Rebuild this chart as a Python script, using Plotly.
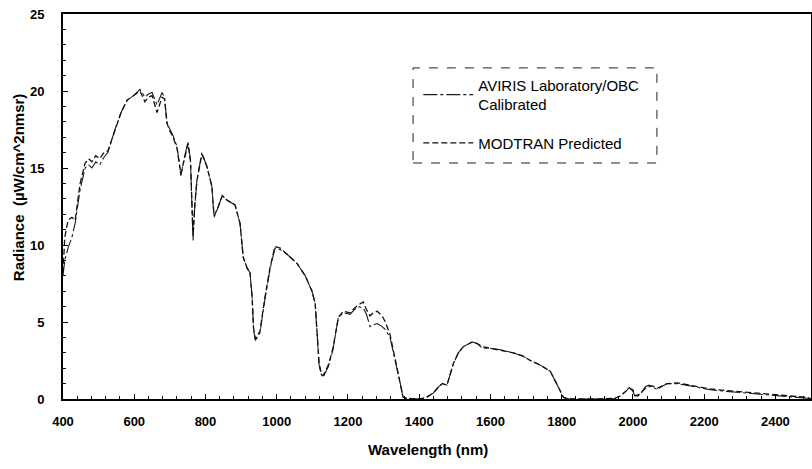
import plotly.graph_objects as go

wavelength = [400, 405, 414, 425, 434, 448, 462, 472, 481, 492, 503, 515, 526, 546, 563, 580, 598, 616,
              630, 640, 650, 664, 678, 685, 692, 700, 709, 720, 731, 740, 751, 758, 762, 765, 770, 776,
              790, 804, 818, 824, 833, 847, 861, 883, 897, 906, 917, 925, 931, 935, 940, 953, 967, 981,
              995, 1010, 1029, 1057, 1080, 1099, 1108, 1113, 1119, 1125, 1130, 1145, 1158, 1173, 1187,
              1206, 1218, 1229, 1243, 1252, 1262, 1271, 1282, 1296, 1305, 1318, 1333, 1347, 1355, 1380,
              1403, 1420, 1440, 1455, 1465, 1478, 1496, 1510, 1524, 1549, 1563, 1577, 1599, 1627, 1664,
              1690, 1712, 1740, 1768, 1788, 1805, 1820, 1900, 1950, 1965, 1980, 1990, 2000, 2007, 2021,
              2035, 2045, 2055, 2068, 2080, 2096, 2124, 2150, 2170, 2217, 2260, 2310, 2360, 2406, 2450,
              2490, 2500]

aviris = [8.0, 9.0, 9.8, 10.5, 11.4, 13.6, 15.0, 15.2, 15.0, 15.4, 15.2, 15.7, 16.0, 17.5, 18.6, 19.4,
          19.7, 20.1, 19.6, 19.8, 19.9, 19.1, 19.9, 19.6, 17.9, 17.5, 17.1, 16.4, 14.5, 15.6, 16.7, 15.5,
          12.0, 10.3, 12.5, 14.2, 16.0, 15.1, 13.8, 11.8, 12.3, 13.2, 12.9, 12.6, 11.4, 9.2, 8.5, 8.2,
          6.6, 4.5, 3.8, 4.3, 6.5, 8.4, 9.8, 9.7, 9.4, 8.8, 8.0, 7.0, 6.2, 4.0, 2.2, 1.6, 1.4, 2.1, 3.2,
          5.3, 5.6, 5.5, 5.8, 6.0, 5.9, 5.5, 4.7, 4.8, 4.9, 4.7, 4.5, 4.0, 2.5, 1.0, 0.05, 0.0, 0.0,
          0.1, 0.4, 0.8, 1.0, 0.9, 2.3, 3.0, 3.4, 3.7, 3.6, 3.3, 3.3, 3.2, 3.0, 2.8, 2.5, 2.2, 1.8, 0.9,
          0.1, 0.0, 0.0, 0.05, 0.2, 0.5, 0.75, 0.5, 0.1, 0.3, 0.8, 0.9, 0.8, 0.6, 0.8, 1.0, 1.0, 0.9,
          0.8, 0.6, 0.5, 0.4, 0.3, 0.2, 0.15, 0.05, 0.0]

modtran = [8.2, 10.5, 11.6, 11.8, 11.6, 14.0, 15.3, 15.6, 15.4, 15.8, 15.6, 16.0, 16.1, 17.5, 18.6,
           19.4, 19.7, 20.0, 19.3, 19.6, 19.7, 18.6, 19.6, 19.5, 17.9, 17.4, 17.0, 16.3, 14.6, 15.6,
           16.6, 15.4, 12.2, 10.6, 12.6, 14.2, 15.9, 15.1, 13.8, 11.9, 12.3, 13.2, 12.9, 12.6, 11.4, 9.2,
           8.5, 8.2, 6.6, 4.6, 3.9, 4.4, 6.6, 8.5, 9.9, 9.8, 9.4, 8.8, 8.0, 7.0, 6.2, 4.1, 2.3, 1.7, 1.5,
           2.2, 3.3, 5.3, 5.7, 5.6, 5.9, 6.1, 6.3, 5.8, 5.4, 5.6, 5.7, 5.4, 5.0, 4.2, 2.6, 1.1, 0.1, 0.0,
           0.0, 0.1, 0.4, 0.8, 1.0, 0.9, 2.3, 3.0, 3.4, 3.7, 3.6, 3.4, 3.3, 3.2, 3.0, 2.8, 2.5, 2.2, 1.8,
           0.9, 0.1, 0.0, 0.0, 0.05, 0.2, 0.5, 0.7, 0.6, 0.2, 0.35, 0.7, 0.8, 0.85, 0.7, 0.85, 1.0, 1.05,
           0.95, 0.85, 0.65, 0.55, 0.45, 0.35, 0.25, 0.2, 0.1, 0.0]

series_names = ["AVIRIS Laboratory/OBC<br>Calibrated", "MODTRAN Predicted"]
x_ticks = [400, 600, 800, 1000, 1200, 1400, 1600, 1800, 2000, 2200, 2400]
y_ticks = [0, 5, 10, 15, 20, 25]
x_title = "Wavelength (nm)"
y_title = "Radiance  (\u00b5W/cm^2nmsr)"

FONT = "Liberation Sans, Arial, sans-serif"

fig = go.Figure()
fig.add_trace(go.Scatter(x=wavelength, y=aviris, mode="lines", name=series_names[0],
                         legendgroup="a",
                         line=dict(color="#1a1a1a", width=1.1, dash="14px,3px,3px,3px")))
fig.add_trace(go.Scatter(x=wavelength, y=modtran, mode="lines", name=series_names[1],
                         legendgroup="b",
                         line=dict(color="#111111", width=1.3, dash="6px,3px")))

# dashed legend frame
fig.add_shape(type="rect", xref="paper", yref="paper", x0=0.468, x1=0.794, y0=0.613, y1=0.860,
              line=dict(color="#222222", width=1, dash="dash"), fillcolor="rgba(0,0,0,0)")

# axis titles (plot area: x 63..811, y 14..399)
fig.add_annotation(text=x_title, xref="paper", yref="paper", x=0.488, y=-0.13,
                   showarrow=False, xanchor="center", yanchor="middle",
                   font=dict(family=FONT, size=15, weight="bold", color="black"))
fig.add_annotation(text=y_title, xref="paper", yref="paper", x=-0.060, y=0.548,
                   showarrow=False, xanchor="center", yanchor="middle", textangle=-90,
                   font=dict(family=FONT, size=15, weight="bold", color="black"))

fig.update_layout(
    width=812, height=469,
    margin=dict(l=63, r=1, t=14, b=70, autoexpand=False),
    paper_bgcolor="white", plot_bgcolor="white",
    font=dict(family=FONT, color="black"),
    showlegend=True,
    legend=dict(x=0.475, y=0.858, xanchor="left", yanchor="top",
                bgcolor="rgba(0,0,0,0)", borderwidth=0,
                font=dict(family=FONT, size=15, color="black"),
                tracegroupgap=16, itemwidth=50),
    xaxis=dict(range=[400, 2500], tickvals=x_ticks, ticktext=[str(v) for v in x_ticks],
               automargin=False,
               showgrid=False, zeroline=False,
               showline=True, linecolor="black", linewidth=1.5, mirror=True,
               ticks="inside", ticklen=5, tickcolor="black", tickwidth=1,
               minor=dict(dtick=40, ticks="inside", ticklen=3, tickcolor="black", showgrid=False),
               ticklabelstandoff=10,
               tickfont=dict(family=FONT, size=13, weight="bold")),
    yaxis=dict(range=[0, 25], tickvals=y_ticks, ticktext=[str(v) for v in y_ticks],
               automargin=False, ticklabeloverflow="allow",
               showgrid=False, zeroline=False,
               showline=True, linecolor="black", linewidth=2, mirror=True,
               ticks="inside", ticklen=5, tickcolor="black", tickwidth=1,
               minor=dict(dtick=1, ticks="inside", ticklen=3, tickcolor="black", showgrid=False),
               ticklabelstandoff=14,
               tickfont=dict(family=FONT, size=13, weight="bold")),
)

fig.write_html("out.html", config={"displayModeBar": False},
               post_script="document.body.style.margin='0';")
